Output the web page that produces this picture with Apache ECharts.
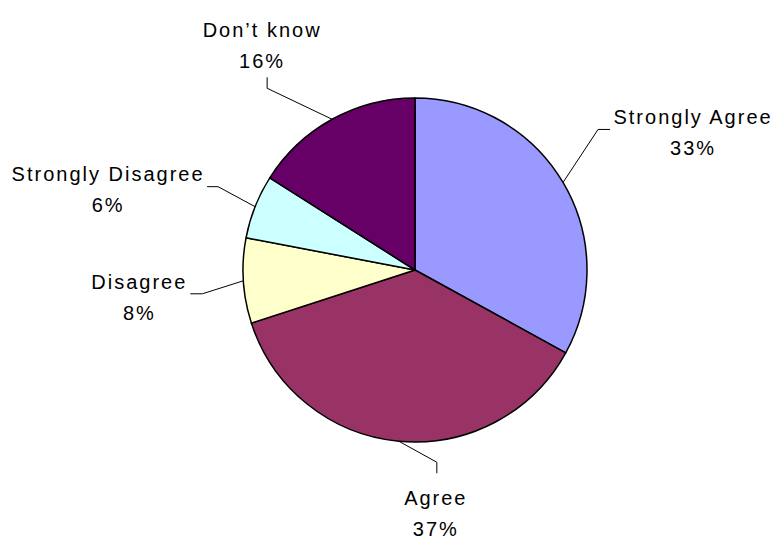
<!DOCTYPE html>
<html>
<head>
<meta charset="utf-8">
<script src="https://cdn.jsdelivr.net/npm/echarts@6/dist/echarts.min.js"></script>
<style>
  html, body { margin: 0; padding: 0; background: #ffffff; }
  #chart { width: 774px; height: 536px; }
  #chart text { letter-spacing: 2px; }
</style>
</head>
<body>
<div id="chart"></div>
<script>
// Survey responses, clockwise from 12 o'clock
const categories = ['Strongly Agree', 'Agree', 'Disagree', 'Strongly Disagree', 'Don\u2019t know'];
const percentValues = [33, 37, 8, 6, 16];
const sliceColors = ['#9999FF', '#993366', '#FFFFCC', '#CCFFFF', '#660066'];

// Pie geometry (pixels)
const pieCenter = [415, 270];
const pieRadius = 172;

// Label placement relative to the point where each leader line leaves the pie:
// [elbow dx, elbow dy, end dx, end dy, text dx, text dy]
const labelOffsets = [
  [35, -53, 47, -53, 130, -50],
  [38, 21, 38, 32, 37, 72],
  [-41, 13, -53, 13, -104, 17],
  [-37, -20, -48, -20, -147, -17],
  [-65, -31, -65, -42, -70, -74]
];

const total = percentValues.reduce((a, b) => a + b, 0);

// Point on the rim at the middle of slice i (clockwise from top)
function rimPoint(i) {
  let before = 0;
  for (let k = 0; k < i; k++) before += percentValues[k];
  const frac = (before + percentValues[i] / 2) / total;
  const ang = frac * Math.PI * 2;
  return [pieCenter[0] + pieRadius * Math.sin(ang), pieCenter[1] - pieRadius * Math.cos(ang)];
}

const chart = echarts.init(document.getElementById('chart'), null, { renderer: 'svg' });

chart.setOption({
  backgroundColor: '#ffffff',
  animation: false,
  series: [{
    type: 'pie',
    center: pieCenter,
    radius: [0, pieRadius],
    startAngle: 90,
    clockwise: true,
    avoidLabelOverlap: false,
    data: categories.map((name, i) => ({
      name: name,
      value: percentValues[i],
      itemStyle: { color: sliceColors[i] }
    })),
    itemStyle: { borderColor: '#000000', borderWidth: 1.5 },
    emphasis: { disabled: true },
    label: {
      show: true,
      position: 'outside',
      formatter: p => p.name + '\n' + p.value + '%',
      color: '#000000',
      fontFamily: '"Liberation Sans", Arial, sans-serif',
      fontSize: 20,
      lineHeight: 31,
      align: 'center'
    },
    labelLine: {
      show: true,
      smooth: false,
      length: 20,
      length2: 10,
      lineStyle: { color: '#000000', width: 1 }
    },
    labelLayout: function (params) {
      const i = params.dataIndex;
      const p = rimPoint(i);
      const o = labelOffsets[i];
      return {
        x: p[0] + o[4],
        y: p[1] + o[5],
        align: 'center',
        verticalAlign: 'middle',
        labelLinePoints: [
          [p[0], p[1]],
          [p[0] + o[0], p[1] + o[1]],
          [p[0] + o[2], p[1] + o[3]]
        ]
      };
    }
  }]
});
</script>
</body>
</html>
